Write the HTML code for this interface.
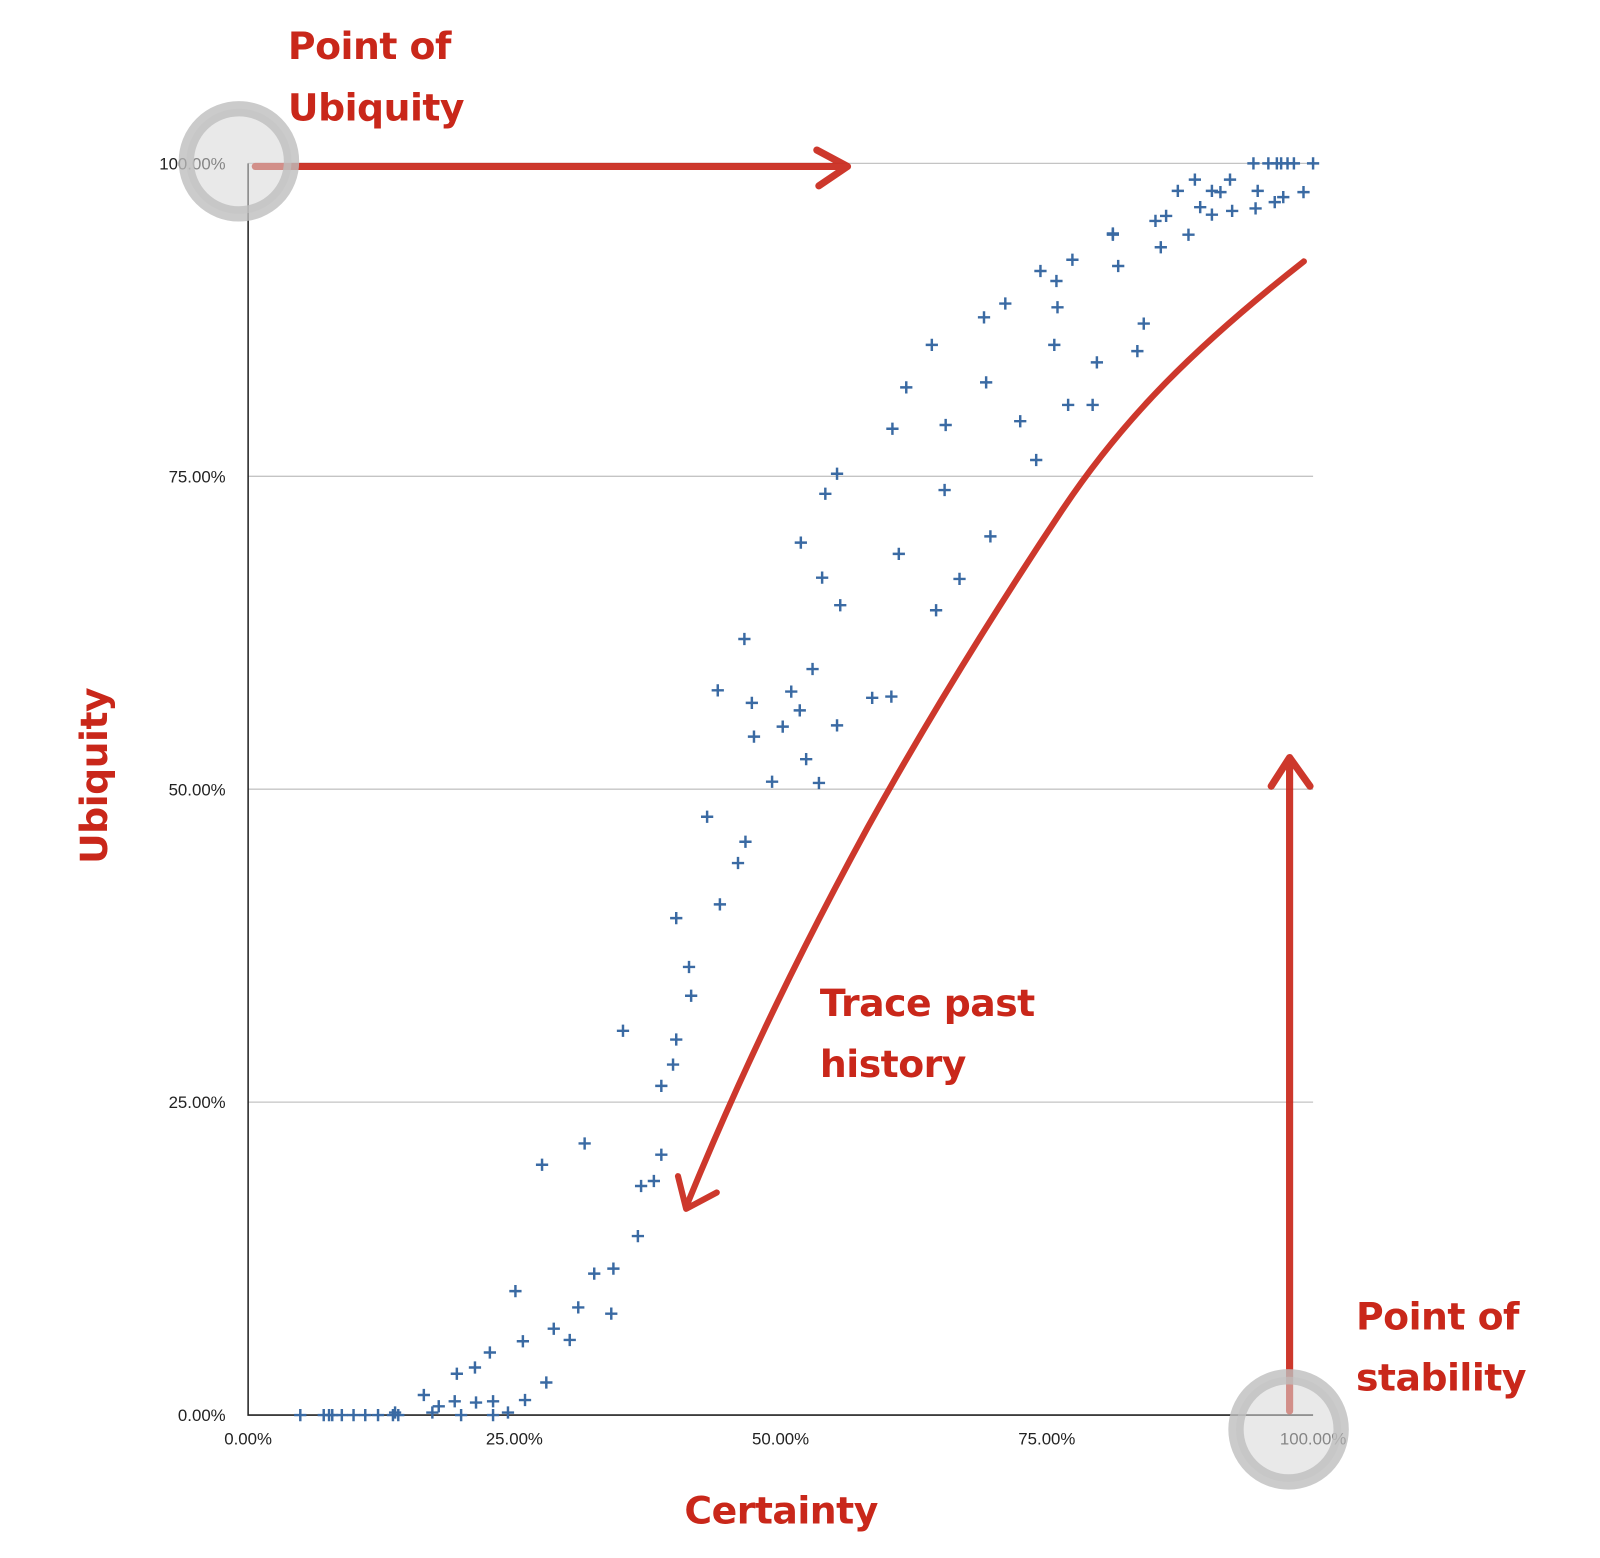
<!DOCTYPE html>
<html><head><meta charset="utf-8"><style>
html,body{margin:0;padding:0;background:#fff;}
svg{display:block;}
.tick{font-family:"Liberation Sans",sans-serif;font-size:16.5px;fill:#222;}
.hand{font-family:"DejaVu Sans",sans-serif;font-weight:bold;fill:#c9271a;font-size:37px;letter-spacing:-0.5px;}
</style></head><body>
<svg id="chart" width="1600" height="1558" viewBox="0 0 1567 1526" preserveAspectRatio="none" xmlns="http://www.w3.org/2000/svg">
<g id="grid"></g>
<g id="axes"></g>
<g id="points"></g>
<g id="annot">
<path d="M250 163 L828 163 M800 147 L830 163 L802 182" stroke="#c9271a" stroke-width="7" fill="none" stroke-linecap="round" stroke-linejoin="round" opacity="0.92"/>
<path d="M1277 256 C1170 340 1100 410 1040 500 C960 620 900 720 850 810 C790 920 730 1040 672 1182 M664 1152 L672 1184 L702 1168" stroke="#c9271a" stroke-width="6" fill="none" stroke-linecap="round" stroke-linejoin="round" opacity="0.92"/>
<path d="M1263 1382 L1263 745 M1245 770 L1263 742 L1283 770" stroke="#c9271a" stroke-width="7" fill="none" stroke-linecap="round" stroke-linejoin="round" opacity="0.92"/>
<circle cx="234" cy="158" r="51.5" fill="rgba(215,215,215,0.55)" stroke="rgba(190,190,190,0.8)" stroke-width="15"/>
<circle cx="1262" cy="1400" r="51.5" fill="rgba(215,215,215,0.55)" stroke="rgba(190,190,190,0.8)" stroke-width="15"/>
<text class="hand" x="282" y="58">Point of</text>
<text class="hand" x="282" y="118">Ubiquity</text>
<text class="hand" x="803" y="995">Trace past</text>
<text class="hand" x="803" y="1055">history</text>
<text class="hand" x="1328" y="1302">Point of</text>
<text class="hand" x="1328" y="1362">stability</text>
<text class="hand" x="765" y="1492" text-anchor="middle">Certainty</text>
<text class="hand" transform="translate(105,760) rotate(-90)" text-anchor="middle">Ubiquity</text>
</g>
</svg>
<script>
const xTicks=[0,25,50,75,100];
const yTicks=[0,25,50,75,100];
const tickLabels=["0.00%","25.00%","50.00%","75.00%","100.00%"];
const certainty=[4.9,7.1,7.6,7.9,8.8,9.9,11,12.2,13.6,14.1,20,23,24.4,13.8,16.5,17.3,17.9,19.4,19.6,21.3,21.4,22.7,23,25.1,25.8,26,28,27.6,28.7,30.2,31,31.6,32.5,34.1,34.3,35.2,36.6,36.9,38.1,38.8,38.8,40.2,39.9,40.2,41.4,41.6,43.1,44.1,44.3,46,46.7,46.6,47.3,47.5,49.2,50.2,51,51.8,51.9,52.4,53,53.6,53.9,54.2,55.3,55.3,55.6,58.6,60.4,60.5,61.1,61.8,64.6,64.2,65.4,65.5,66.8,69.1,69.3,69.7,71.1,72.5,74,74.4,76,75.9,75.7,77,77.4,79.3,79.7,81.2,81.2,81.7,83.5,84.1,85.2,85.7,86.2,87.3,88.3,88.9,89.4,90.5,90.5,91.3,92.2,92.4,94.4,94.6,94.8,95.8,96.4,96.6,97,97.2,98.2,99.1,100,97.6];
const ubiquity=[0,0,0,0,0,0,0,0,0,0,0,0,0.2,0.2,1.6,0.2,0.7,1.1,3.3,3.8,1,5,1.1,9.9,5.9,1.2,2.6,20,6.9,6,8.6,21.7,11.3,8.1,11.7,30.7,14.3,18.3,18.7,20.8,26.3,30,28,39.7,35.8,33.5,47.8,57.9,40.8,44.1,45.8,62,56.9,54.2,50.6,55,57.8,56.3,69.7,52.4,59.6,50.5,66.9,73.6,55.1,75.2,64.7,57.3,57.4,78.8,68.8,82.1,64.3,85.5,73.9,79.1,66.8,87.7,82.5,70.2,88.8,79.4,76.3,91.4,88.5,90.6,85.5,80.7,92.3,80.7,84.1,94.4,94.3,91.8,85,87.2,95.4,93.3,95.8,97.8,94.3,98.7,96.5,97.8,95.9,97.7,98.7,96.2,100,96.4,97.8,100,96.9,100,100,97.3,100,97.7,100,100,100,100];
const NS="http://www.w3.org/2000/svg";
const X0=243,X1=1286,Y0=1386,Y1=160;
function xs(v){return X0+(X1-X0)*v/100;}
function ys(v){return Y0-(Y0-Y1)*v/100;}
const grid=document.getElementById('grid'),axes=document.getElementById('axes'),pts=document.getElementById('points');
yTicks.forEach((t,i)=>{
  if(t>0){const l=document.createElementNS(NS,'line');
  
  
  l.setAttribute('x1',X0);l.setAttribute('x2',X1);l.setAttribute('y1',ys(t));l.setAttribute('y2',ys(t));
  l.setAttribute('stroke','#c4c4c4');l.setAttribute('stroke-width','1.3');grid.appendChild(l);}
  const tx=document.createElementNS(NS,'text');
  
  
  tx.setAttribute('class','tick');tx.setAttribute('x',221);tx.setAttribute('y',ys(t)+6);tx.setAttribute('text-anchor','end');
  tx.textContent=tickLabels[i];axes.appendChild(tx);
});
xTicks.forEach((t,i)=>{
  const tx=document.createElementNS(NS,'text');
  
  
  tx.setAttribute('class','tick');tx.setAttribute('x',xs(t));tx.setAttribute('y',Y0+29);tx.setAttribute('text-anchor','middle');
  tx.textContent=tickLabels[i];axes.appendChild(tx);
});
const ax=document.createElementNS(NS,'path');


ax.setAttribute('d','M'+X0+' '+Y1+' L'+X0+' '+Y0+' L'+X1+' '+Y0);
ax.setAttribute('stroke','#222');ax.setAttribute('stroke-width','1.5');ax.setAttribute('fill','none');axes.appendChild(ax);
certainty.forEach((c,i)=>{
  const x=xs(c),y=ys(ubiquity[i]);
  const p=document.createElementNS(NS,'path');
  
  
  p.setAttribute('d','M'+(x-6)+' '+y+' H'+(x+6)+' M'+x+' '+(y-6)+' V'+(y+6));
  p.setAttribute('stroke','#3a6aa3');p.setAttribute('stroke-width','2.4');pts.appendChild(p);
});
</script>
</body></html>
